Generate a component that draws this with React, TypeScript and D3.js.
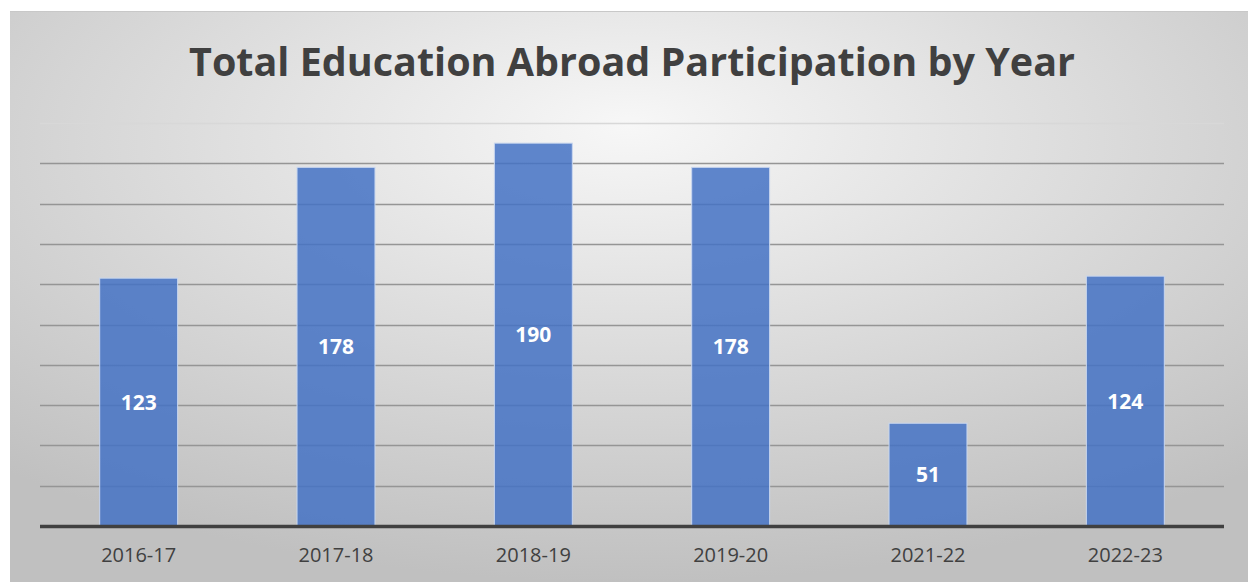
import React from "react";
import * as d3 from "d3";

const categories = ["2016-17", "2017-18", "2018-19", "2019-20", "2021-22", "2022-23"];
const values = [123, 178, 190, 178, 51, 124];
const yTicks = [0, 20, 40, 60, 80, 100, 120, 140, 160, 180, 200];
const title = "Total Education Abroad Participation by Year";

export default function App() {
  const W = 1248;
  const H = 582;
  const left = 40;
  const right = 1224;
  const top = 123;
  const bottom = 526;

  const x = d3.scaleBand<string>().domain(categories).range([left, right]).paddingInner(0.605).paddingOuter(0.3025);
  const y = d3.scaleLinear().domain([0, 200]).range([bottom, top]);

  const font = "'Open Sans', 'Noto Sans', sans-serif";

  return (
    <div style={{ position: "absolute", left: 0, top: 0, width: W, height: H, background: "#fff" }}>
      <svg width={W} height={H} style={{ display: "block" }}>
        <defs>
          <radialGradient id="bg" cx="50%" cy="25%" r="75%" fx="50%" fy="20%">
            <stop offset="0%" stopColor="#f7f7f7" />
            <stop offset="100%" stopColor="#c0c0c0" />
          </radialGradient>
        </defs>
        <rect x={10} y={11} width={W - 10} height={H - 11} fill="url(#bg)" />
        <line x1={10} x2={W} y1={11.5} y2={11.5} stroke="#c8c8c8" strokeWidth={1} />
        <text
          x={632}
          y={76}
          textAnchor="middle"
          fontFamily={font}
          fontWeight={700}
          fontSize={39.5}
          fill="#404040"
        >
          {title}
        </text>
        {yTicks.slice(1).map((t) => (
          <line
            key={t}
            x1={left}
            x2={right}
            y1={Math.round(y(t)) + 0.5}
            y2={Math.round(y(t)) + 0.5}
            stroke={t === 200 ? "#d8d8d8" : "#959595"}
            strokeWidth={1.5}
          />
        ))}
        {categories.map((c, i) => (
          <g key={c}>
            <rect
              x={x(c)!}
              y={y(values[i])}
              width={x.bandwidth()}
              height={bottom - y(values[i])}
              fill="#4472C4"
              fillOpacity={0.85}
              stroke="#c9d7ef"
              strokeWidth={1}
            />
            <text
              x={x(c)! + x.bandwidth() / 2}
              y={(y(values[i]) + bottom) / 2}
              dy="0.36em"
              textAnchor="middle"
              fontFamily={font}
              fontWeight={700}
              fontSize={21}
              fill="#ffffff"
            >
              {values[i]}
            </text>
            <text
              x={x(c)! + x.bandwidth() / 2}
              y={555}
              dy="0.36em"
              textAnchor="middle"
              fontFamily={font}
              fontSize={20}
              fill="#404040"
            >
              {c}
            </text>
          </g>
        ))}
        <line x1={left} x2={right} y1={y(0) + 0.5} y2={y(0) + 0.5} stroke="#404040" strokeWidth={3.5} />
      </svg>
    </div>
  );
}
